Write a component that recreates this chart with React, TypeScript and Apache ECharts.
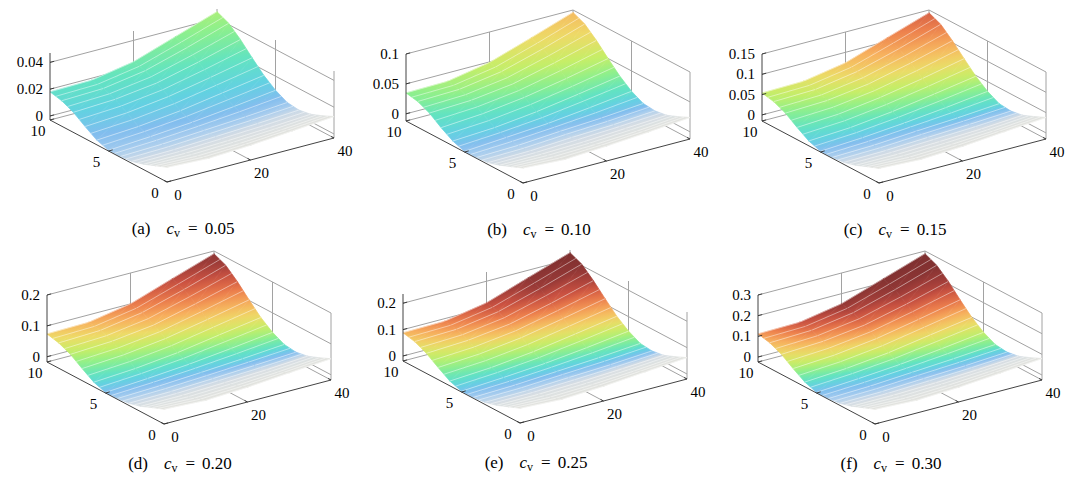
import React, { useEffect, useRef } from "react";
import * as echarts from "echarts";

// ---------------- data ----------------
const xGrid = [0, 10, 20, 30, 40];
const yGrid = [0, 1, 2, 3, 4, 5, 6, 7, 8, 9, 10];
const xTicks = [0, 20, 40];
const yTicks = [0, 5, 10];
const xTickLabels = ["0", "20", "40"];
const yTickLabels = ["0", "5", "10"];

const panelTags = ["(a)", "(b)", "(c)", "(d)", "(e)", "(f)"];
const cvLabels = ["0.05", "0.10", "0.15", "0.20", "0.25", "0.30"];

// z limits and ticks per panel
const zRangeA = [-0.003, 0.047];
const zRangeB = [-0.012, 0.1];
const zRangeC = [-0.015, 0.15];
const zRangeD = [-0.017, 0.2];
const zRangeE = [-0.019, 0.235];
const zRangeF = [-0.024, 0.3];
const zTicksA = [0, 0.02, 0.04];
const zTicksB = [0, 0.05, 0.1];
const zTicksC = [0, 0.05, 0.1, 0.15];
const zTicksD = [0, 0.1, 0.2];
const zTicksE = [0, 0.1, 0.2];
const zTicksF = [0, 0.1, 0.2, 0.3];
const zLabelsA = ["0", "0.02", "0.04"];
const zLabelsB = ["0", "0.05", "0.1"];
const zLabelsC = ["0", "0.05", "0.1", "0.15"];
const zLabelsD = ["0", "0.1", "0.2"];
const zLabelsE = ["0", "0.1", "0.2"];
const zLabelsF = ["0", "0.1", "0.2", "0.3"];

// surface heights: rows = yGrid, columns = xGrid
const heightA = [
  [0.008, 0.0065, 0.008, 0.0105, 0.013],
  [0.0045, 0.0035, 0.0045, 0.0065, 0.009],
  [0.001, 0.001, 0.002, 0.0035, 0.0055],
  [-0.0015, -0.001, 0.0005, 0.002, 0.004],
  [-0.0025, -0.0015, 0.0005, 0.0025, 0.005],
  [-0.0025, -0.0005, 0.002, 0.0055, 0.0095],
  [0.0005, 0.0025, 0.006, 0.011, 0.016],
  [0.006, 0.008, 0.012, 0.018, 0.0245],
  [0.012, 0.0135, 0.0175, 0.025, 0.0335],
  [0.016, 0.017, 0.022, 0.031, 0.041],
  [0.018, 0.0185, 0.024, 0.0345, 0.045],
];
const heightB = [
  [0.013, 0.009, 0.013, 0.018, 0.024],
  [0.005, 0.003, 0.005, 0.009, 0.015],
  [-0.003, -0.003, -0.001, 0.003, 0.007],
  [-0.009, -0.008, -0.004, -0.001, 0.004],
  [-0.011, -0.009, -0.004, 0.0, 0.006],
  [-0.011, -0.006, -0.001, 0.007, 0.016],
  [-0.004, 0.0, 0.008, 0.019, 0.031],
  [0.008, 0.013, 0.022, 0.035, 0.05],
  [0.022, 0.025, 0.034, 0.051, 0.07],
  [0.031, 0.033, 0.044, 0.064, 0.087],
  [0.035, 0.036, 0.049, 0.072, 0.096],
];
const heightC = [
  [0.021, 0.016, 0.021, 0.03, 0.038],
  [0.01, 0.006, 0.01, 0.016, 0.025],
  [-0.002, -0.002, 0.002, 0.006, 0.013],
  [-0.01, -0.008, -0.003, 0.002, 0.008],
  [-0.013, -0.01, -0.003, 0.003, 0.011],
  [-0.013, -0.007, 0.002, 0.013, 0.026],
  [-0.003, 0.003, 0.015, 0.031, 0.048],
  [0.015, 0.021, 0.035, 0.054, 0.076],
  [0.035, 0.039, 0.053, 0.077, 0.105],
  [0.048, 0.051, 0.068, 0.097, 0.13],
  [0.054, 0.056, 0.074, 0.109, 0.143],
];
const heightD = [
  [0.031, 0.024, 0.031, 0.042, 0.052],
  [0.016, 0.011, 0.016, 0.024, 0.035],
  [0.0, 0.0, 0.005, 0.011, 0.02],
  [-0.01, -0.008, -0.002, 0.005, 0.013],
  [-0.015, -0.01, -0.002, 0.007, 0.018],
  [-0.015, -0.006, 0.005, 0.02, 0.037],
  [-0.002, 0.007, 0.022, 0.044, 0.065],
  [0.022, 0.031, 0.048, 0.074, 0.102],
  [0.048, 0.055, 0.072, 0.105, 0.141],
  [0.065, 0.07, 0.092, 0.131, 0.174],
  [0.074, 0.076, 0.1, 0.146, 0.191],
];
const heightE = [
  [0.037, 0.029, 0.037, 0.05, 0.062],
  [0.019, 0.014, 0.019, 0.029, 0.042],
  [0.001, 0.001, 0.006, 0.014, 0.024],
  [-0.011, -0.009, -0.001, 0.006, 0.017],
  [-0.016, -0.011, -0.001, 0.009, 0.022],
  [-0.016, -0.006, 0.006, 0.024, 0.045],
  [-0.001, 0.009, 0.027, 0.052, 0.078],
  [0.027, 0.037, 0.057, 0.088, 0.121],
  [0.057, 0.065, 0.085, 0.123, 0.166],
  [0.078, 0.083, 0.108, 0.154, 0.205],
  [0.088, 0.09, 0.118, 0.172, 0.225],
];
const heightF = [
  [0.047, 0.038, 0.047, 0.063, 0.08],
  [0.025, 0.018, 0.025, 0.038, 0.054],
  [0.002, 0.002, 0.008, 0.018, 0.031],
  [-0.014, -0.011, -0.001, 0.008, 0.021],
  [-0.021, -0.014, -0.001, 0.012, 0.028],
  [-0.021, -0.008, 0.008, 0.031, 0.057],
  [-0.001, 0.012, 0.034, 0.067, 0.099],
  [0.034, 0.047, 0.073, 0.112, 0.154],
  [0.073, 0.083, 0.109, 0.157, 0.213],
  [0.099, 0.106, 0.138, 0.196, 0.261],
  [0.112, 0.115, 0.151, 0.219, 0.287],
];

// colour data (position on the colour map, 0..1): rows = yGrid, columns = xGrid
const toneA = [
  [0, 0, 0, 0, 0],
  [0.02, 0.02, 0.02, 0.02, 0.02],
  [0.04, 0.04, 0.04, 0.05, 0.05],
  [0.08, 0.09, 0.1, 0.1, 0.1],
  [0.13, 0.15, 0.17, 0.19, 0.2],
  [0.18, 0.2, 0.23, 0.26, 0.28],
  [0.22, 0.25, 0.28, 0.31, 0.34],
  [0.27, 0.3, 0.33, 0.36, 0.4],
  [0.32, 0.34, 0.37, 0.41, 0.45],
  [0.36, 0.38, 0.41, 0.45, 0.49],
  [0.38, 0.4, 0.43, 0.47, 0.52],
];
const toneB = [
  [0, 0, 0, 0, 0],
  [0.02, 0.02, 0.02, 0.02, 0.02],
  [0.04, 0.04, 0.05, 0.05, 0.06],
  [0.08, 0.09, 0.1, 0.12, 0.14],
  [0.14, 0.16, 0.19, 0.24, 0.28],
  [0.2, 0.23, 0.28, 0.34, 0.38],
  [0.28, 0.32, 0.37, 0.42, 0.46],
  [0.35, 0.39, 0.44, 0.5, 0.55],
  [0.41, 0.45, 0.5, 0.56, 0.62],
  [0.46, 0.5, 0.55, 0.61, 0.67],
  [0.48, 0.52, 0.57, 0.64, 0.7],
];
const toneC = [
  [0, 0, 0, 0, 0],
  [0.02, 0.02, 0.02, 0.02, 0.02],
  [0.04, 0.04, 0.05, 0.05, 0.06],
  [0.08, 0.1, 0.12, 0.15, 0.2],
  [0.15, 0.18, 0.23, 0.3, 0.36],
  [0.22, 0.27, 0.33, 0.4, 0.46],
  [0.32, 0.37, 0.43, 0.5, 0.56],
  [0.4, 0.45, 0.52, 0.59, 0.65],
  [0.47, 0.52, 0.6, 0.67, 0.74],
  [0.53, 0.58, 0.66, 0.74, 0.81],
  [0.56, 0.61, 0.69, 0.78, 0.85],
];
const toneD = [
  [0, 0, 0, 0, 0],
  [0.02, 0.02, 0.02, 0.02, 0.02],
  [0.04, 0.04, 0.05, 0.05, 0.06],
  [0.09, 0.11, 0.14, 0.18, 0.24],
  [0.16, 0.2, 0.26, 0.34, 0.4],
  [0.24, 0.3, 0.37, 0.45, 0.52],
  [0.35, 0.41, 0.48, 0.56, 0.63],
  [0.45, 0.51, 0.58, 0.66, 0.74],
  [0.54, 0.6, 0.68, 0.77, 0.85],
  [0.61, 0.67, 0.76, 0.85, 0.93],
  [0.66, 0.72, 0.81, 0.9, 0.97],
];
const toneE = [
  [0, 0, 0, 0, 0],
  [0.02, 0.02, 0.02, 0.02, 0.02],
  [0.04, 0.04, 0.05, 0.05, 0.06],
  [0.1, 0.12, 0.15, 0.2, 0.26],
  [0.17, 0.22, 0.28, 0.36, 0.43],
  [0.26, 0.32, 0.4, 0.48, 0.55],
  [0.38, 0.44, 0.52, 0.6, 0.67],
  [0.49, 0.55, 0.63, 0.72, 0.8],
  [0.58, 0.66, 0.76, 0.85, 0.92],
  [0.66, 0.75, 0.85, 0.94, 0.98],
  [0.71, 0.8, 0.9, 0.97, 1.0],
];
const toneF = [
  [0, 0, 0, 0, 0],
  [0.02, 0.02, 0.02, 0.02, 0.02],
  [0.04, 0.04, 0.05, 0.05, 0.06],
  [0.1, 0.13, 0.17, 0.22, 0.28],
  [0.17, 0.23, 0.3, 0.38, 0.45],
  [0.24, 0.32, 0.41, 0.5, 0.56],
  [0.38, 0.46, 0.55, 0.63, 0.68],
  [0.52, 0.6, 0.68, 0.76, 0.82],
  [0.63, 0.72, 0.81, 0.88, 0.93],
  [0.71, 0.82, 0.9, 0.96, 0.99],
  [0.76, 0.88, 0.96, 0.99, 1.0],
];

// colour map stops
const cmapStops: [number, number[]][] = [
  [0.0, [224, 225, 219]],
  [0.08, [204, 215, 226]],
  [0.16, [160, 200, 236]],
  [0.24, [116, 182, 236]],
  [0.32, [80, 204, 222]],
  [0.4, [80, 224, 186]],
  [0.48, [128, 238, 128]],
  [0.56, [192, 236, 86]],
  [0.64, [236, 214, 86]],
  [0.72, [246, 168, 76]],
  [0.8, [234, 112, 56]],
  [0.88, [196, 62, 44]],
  [0.94, [146, 38, 34]],
  [1.0, [110, 24, 24]],
];
const WHITE_MIX = 0.1; // mesh lines lighten the faces

// ---------------- layout ----------------
const FRONT = [
  [167, 182],
  [523, 183],
  [879, 183],
  [164, 424],
  [520, 423],
  [875, 424],
];
const CAPTION_DY = [46, 46, 46, 39, 39, 39];
const EXX = 167, EXY = 44; // screen vector of full x extent (right, up)
const EYX = 117, EYY = 62; // screen vector of full y extent (left, up)
const EZ = 67; // box height
const BOX_W = EXX + EYX;
const BOX_H = EXY + EYY + EZ;
const FONT = "Liberation Serif";
const TICK_SIZE = 15;
const CAP_SIZE = 17;
const GRID_COLOR = "#a2a2a2";
const AXIS_COLOR = "#2e2e2e";
const TEXT_COLOR = "#000000";

const panels = [
  { zRange: zRangeA, zTicks: zTicksA, zLabels: zLabelsA, height: heightA, tone: toneA },
  { zRange: zRangeB, zTicks: zTicksB, zLabels: zLabelsB, height: heightB, tone: toneB },
  { zRange: zRangeC, zTicks: zTicksC, zLabels: zLabelsC, height: heightC, tone: toneC },
  { zRange: zRangeD, zTicks: zTicksD, zLabels: zLabelsD, height: heightD, tone: toneD },
  { zRange: zRangeE, zTicks: zTicksE, zLabels: zLabelsE, height: heightE, tone: toneE },
  { zRange: zRangeF, zTicks: zTicksF, zLabels: zLabelsF, height: heightF, tone: toneF },
];

const X_MAX = xTicks[xTicks.length - 1];
const Y_MAX = yTicks[yTicks.length - 1];

function cmap(t: number): string {
  const v = Math.max(0, Math.min(1, t));
  let c = cmapStops[cmapStops.length - 1][1];
  for (let k = 0; k < cmapStops.length - 1; k++) {
    const [t0, c0] = cmapStops[k];
    const [t1, c1] = cmapStops[k + 1];
    if (v <= t1) {
      const f = (v - t0) / (t1 - t0);
      c = [0, 1, 2].map((q) => c0[q] + (c1[q] - c0[q]) * f);
      break;
    }
  }
  const m = c.map((q) => Math.round(q + (255 - q) * WHITE_MIX));
  return `rgb(${m[0]},${m[1]},${m[2]})`;
}

// orthographic projection of (x, y, z) into the normalised box frame [0,1]x[0,1]
function norm(x: number, y: number, z: number, zr: number[]): number[] {
  const u = x / X_MAX;
  const v = y / Y_MAX;
  const w = (z - zr[0]) / (zr[1] - zr[0]);
  return [(EYX + EXX * u - EYX * v) / BOX_W, (EXY * u + EYY * v + EZ * w) / BOX_H];
}

function tri(p0: number[], p1: number[], p2: number[], t0: number, t1: number, t2: number) {
  const tmin = Math.min(t0, t1, t2);
  const tmax = Math.max(t0, t1, t2);
  const d1x = p1[0] - p0[0], d1y = p1[1] - p0[1];
  const d2x = p2[0] - p0[0], d2y = p2[1] - p0[1];
  const det = d1x * d2y - d1y * d2x;
  let fill: any;
  if (tmax - tmin < 0.004 || Math.abs(det) < 1e-6) {
    fill = cmap((t0 + t1 + t2) / 3);
  } else {
    const dt1 = t1 - t0, dt2 = t2 - t0;
    const gx = (dt1 * d2y - d1y * dt2) / det;
    const gy = (d1x * dt2 - d2x * dt1) / det;
    const g2 = gx * gx + gy * gy;
    const ax = p0[0] + (gx * (tmin - t0)) / g2;
    const ay = p0[1] + (gy * (tmin - t0)) / g2;
    const bx = p0[0] + (gx * (tmax - t0)) / g2;
    const by = p0[1] + (gy * (tmax - t0)) / g2;
    const colorStops = [0, 0.25, 0.5, 0.75, 1].map((o) => ({ offset: o, color: cmap(tmin + (tmax - tmin) * o) }));
    fill = { type: "linear", x: ax, y: ay, x2: bx, y2: by, colorStops, global: true };
  }
  return {
    type: "polygon",
    shape: { points: [p0, p1, p2] },
    style: { fill, stroke: fill, lineWidth: 0.7 },
  };
}

function seg(a: number[], b: number[], stroke: string, lineWidth: number) {
  return { type: "line", shape: { x1: a[0], y1: a[1], x2: b[0], y2: b[1] }, style: { stroke, lineWidth } };
}

function buildOption() {
  const grid: any[] = [];
  const xAxis: any[] = [];
  const yAxis: any[] = [];
  const series: any[] = [];

  panels.forEach((P, k) => {
    const F = FRONT[k];
    grid.push({ left: F[0] - EYX, top: F[1] - BOX_H, width: BOX_W, height: BOX_H });
    xAxis.push({ type: "value", gridIndex: k, min: 0, max: 1, show: false });
    yAxis.push({ type: "value", gridIndex: k, min: 0, max: 1, show: false });
    const zr = P.zRange;
    const zmin = zr[0], zmax = zr[1];

    // back walls and floor grid
    series.push({
      type: "custom",
      xAxisIndex: k,
      yAxisIndex: k,
      z: 1,
      clip: false,
      silent: true,
      data: [[0, 0]],
      renderItem: (params: any, api: any) => {
        const c = (x: number, y: number, z: number) => api.coord(norm(x, y, z, zr));
        const ch: any[] = [];
        xTicks.forEach((xt) => {
          if (xt !== 0) {
            ch.push(seg(c(xt, 0, zmin), c(xt, Y_MAX, zmin), GRID_COLOR, 1));
            ch.push(seg(c(xt, Y_MAX, zmin), c(xt, Y_MAX, zmax), GRID_COLOR, 1));
          }
        });
        yTicks.forEach((yt) => {
          if (yt !== 0) ch.push(seg(c(0, yt, zmin), c(X_MAX, yt, zmin), GRID_COLOR, 1));
          if (yt !== Y_MAX) ch.push(seg(c(X_MAX, yt, zmin), c(X_MAX, yt, zmax), GRID_COLOR, 1));
        });
        P.zTicks.forEach((zt) => {
          ch.push(seg(c(0, Y_MAX, zt), c(X_MAX, Y_MAX, zt), GRID_COLOR, 1));
          ch.push(seg(c(X_MAX, 0, zt), c(X_MAX, Y_MAX, zt), GRID_COLOR, 1));
        });
        return { type: "group", children: ch };
      },
    });

    // surface cells, far to near
    const cells: { v: number[]; d: number }[] = [];
    for (let j = 0; j < yGrid.length - 1; j++) {
      for (let i = 0; i < xGrid.length - 1; i++) {
        const u = (xGrid[i] + xGrid[i + 1]) / 2 / X_MAX;
        const v = (yGrid[j] + yGrid[j + 1]) / 2 / Y_MAX;
        cells.push({ v: [i, j], d: EXY * u + EYY * v });
      }
    }
    cells.sort((a, b) => b.d - a.d);
    series.push({
      type: "custom",
      xAxisIndex: k,
      yAxisIndex: k,
      z: 2,
      clip: false,
      silent: true,
      data: cells.map((c) => c.v),
      renderItem: (params: any, api: any) => {
        const i = api.value(0) as number;
        const j = api.value(1) as number;
        const pt = (ii: number, jj: number) => api.coord(norm(xGrid[ii], yGrid[jj], P.height[jj][ii], zr));
        const p00 = pt(i, j), p10 = pt(i + 1, j), p11 = pt(i + 1, j + 1), p01 = pt(i, j + 1);
        const T = P.tone;
        const ch: any[] = [
          tri(p00, p10, p11, T[j][i], T[j][i + 1], T[j + 1][i + 1]),
          tri(p00, p11, p01, T[j][i], T[j + 1][i + 1], T[j + 1][i]),
        ];
        const mid = (a: number[], b: number[]) => [(a[0] + b[0]) / 2, (a[1] + b[1]) / 2];
        const sc = "rgba(255,255,255,0.5)";
        ch.push(seg(p01, p11, sc, 0.9));
        ch.push(seg(mid(p00, p01), mid(p10, p11), sc, 0.9));
        if (j === 0) ch.push(seg(p00, p10, sc, 0.9));
        return { type: "group", children: ch };
      },
    });

    // axes, ticks, labels, caption
    series.push({
      type: "custom",
      xAxisIndex: k,
      yAxisIndex: k,
      z: 3,
      clip: false,
      silent: true,
      data: [[0, 0]],
      renderItem: (params: any, api: any) => {
        const c = (x: number, y: number, z: number) => api.coord(norm(x, y, z, zr));
        const ch: any[] = [];
        ch.push(seg(c(0, 0, zmin), c(X_MAX, 0, zmin), AXIS_COLOR, 0.9));
        ch.push(seg(c(0, 0, zmin), c(0, Y_MAX, zmin), AXIS_COLOR, 0.9));
        ch.push(seg(c(0, Y_MAX, zmin), c(0, Y_MAX, zmax), AXIS_COLOR, 0.9));
        const txt = (x: number, y: number, text: string, align: string) => ({
          type: "text",
          x,
          y,
          style: {
            text,
            fill: TEXT_COLOR,
            fontSize: TICK_SIZE,
            fontFamily: FONT,
            align,
            verticalAlign: "middle",
          },
        });
        xTicks.forEach((xt, n) => {
          const p = c(xt, 0, zmin);
          ch.push(seg(p, c(xt, 0.25, zmin), AXIS_COLOR, 0.9));
          ch.push(txt(p[0] + 11, p[1] + 13, xTickLabels[n], "center"));
        });
        yTicks.forEach((yt, n) => {
          const p = c(0, yt, zmin);
          ch.push(seg(p, c(1, yt, zmin), AXIS_COLOR, 0.9));
          ch.push(txt(p[0] - 12, p[1] + 11, yTickLabels[n], "center"));
        });
        P.zTicks.forEach((zt, n) => {
          const p = c(0, Y_MAX, zt);
          ch.push(seg(p, c(1, Y_MAX, zt), AXIS_COLOR, 0.9));
          ch.push(txt(p[0] - 7, p[1], P.zLabels[n], "right"));
        });
        const f = c(0, 0, zmin);
        const base = { fontSize: CAP_SIZE, fontFamily: FONT, fill: TEXT_COLOR, lineHeight: 22, verticalAlign: "middle" };
        ch.push({
          type: "text",
          x: f[0] + 16,
          y: f[1] + CAPTION_DY[k],
          style: {
            text: `{r|${panelTags[k]}}{i|c}{s|v}{e|=}{r|${cvLabels[k]}}`,
            fill: TEXT_COLOR,
            fontSize: CAP_SIZE,
            fontFamily: FONT,
            align: "center",
            verticalAlign: "middle",
            rich: {
              r: { ...base },
              i: { ...base, fontStyle: "italic", padding: [0, 0, 0, 16] },
              s: { fontSize: 12, fontFamily: FONT, fill: TEXT_COLOR, lineHeight: 14, verticalAlign: "bottom" },
              e: { ...base, padding: [0, 7, 0, 8] },
            },
          },
        });
        return { type: "group", children: ch };
      },
    });
  });

  return { animation: false, backgroundColor: "#ffffff", grid, xAxis, yAxis, series };
}

export default function App() {
  const ref = useRef<HTMLDivElement>(null);
  useEffect(() => {
    if (!ref.current) return;
    const chart = echarts.init(ref.current, null, { renderer: "svg" });
    chart.setOption(buildOption() as any);
    return () => chart.dispose();
  }, []);
  return (
    <div
      ref={ref}
      style={{ position: "fixed", left: 0, top: 0, width: 1080, height: 490, background: "#ffffff" }}
    />
  );
}
